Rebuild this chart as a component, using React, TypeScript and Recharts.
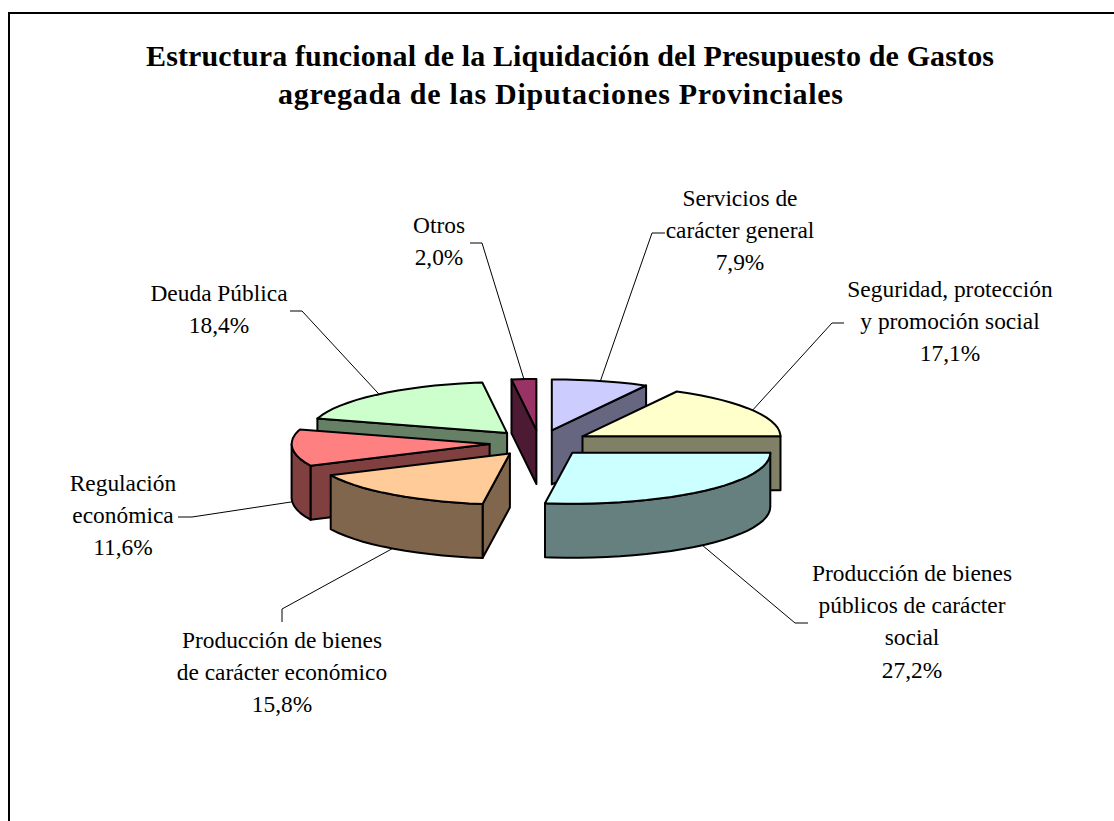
import React from 'react';
import { PieChart, Pie } from 'recharts';

// ── Data ───────────────────────────────────────────────────

const NAMES = [
  'Servicios de carácter general',
  'Seguridad, protección y promoción social',
  'Producción de bienes públicos de carácter social',
  'Producción de bienes de carácter económico',
  'Regulación económica',
  'Deuda Pública',
  'Otros',
];
const VALUES = [7.9, 17.1, 27.2, 15.8, 11.6, 18.4, 2.0];
const TOP_COLORS = ['#CCCCFF', '#FFFFCC', '#CCFFFF', '#FFCC99', '#FF8080', '#CCFFCC', '#993366'];
const WALL_COLORS = ['#666680', '#808066', '#668080', '#80664D', '#804040', '#668066', '#4D1A33'];

const LABEL_LINES = [
  ['Servicios de', 'carácter general', '7,9%'],
  ['Seguridad, protección', 'y promoción social', '17,1%'],
  ['Producción de bienes', 'públicos de carácter', 'social', '27,2%'],
  ['Producción de bienes', 'de carácter económico', '15,8%'],
  ['Regulación', 'económica', '11,6%'],
  ['Deuda Pública', '18,4%'],
  ['Otros', '2,0%'],
];

// text centre and first baseline of each label
const LABEL_POS = [
  [740, 206], [950, 297], [912, 581], [282, 648], [123, 491], [219, 301], [439, 233],
];
// leader line: free end, then elbow, then it runs to the slice rim
const LEADER_POS = [
  [[665, 233], [652, 233]],
  [[844, 323], [832, 323]],
  [[808, 623], [795, 623]],
  [[282, 622], [282, 609]],
  [[178, 517], [192, 517]],
  [[290, 311], [302, 311]],
  [[470, 243], [482, 243]],
];

const rows = NAMES.map((name, i) => ({
  name,
  value: VALUES[i],
  fill: TOP_COLORS[i],
  wall: WALL_COLORS[i],
  idx: i,
}));
const rowsReversed = [...rows].reverse();

// ── 3D projection ──────────────────────────────────────────

const SQUASH = 0.2576;
const DEPTH = 54;
const EXPLODE_X = 50;
const EXPLODE_Y = 13;
const FONT = '"Liberation Serif", "Times New Roman", serif';

const rad = (d: number) => (d * Math.PI) / 180;

// clockwise degrees from 12 o'clock
function apexOf(cx: number, cy: number, mid: number) {
  return { x: cx + EXPLODE_X * Math.sin(rad(mid)), y: cy - EXPLODE_Y * Math.cos(rad(mid)) };
}

function rimOf(apex: { x: number; y: number }, r: number, a: number) {
  return { x: apex.x + r * Math.sin(rad(a)), y: apex.y - r * SQUASH * Math.cos(rad(a)) };
}

function toPath(pts: { x: number; y: number }[]) {
  return 'M' + pts.map((p) => `${p.x.toFixed(1)},${p.y.toFixed(1)}`).join('L') + 'Z';
}

function sweep(from: number, to: number) {
  const out: number[] = [];
  for (let a = from; a < to; a += 4) out.push(a);
  out.push(to);
  return out;
}

const faceStyle = { stroke: '#000', strokeWidth: 2, strokeLinejoin: 'round' as const };

function Slice3D(props: any, side: 'right' | 'left') {
  const { cx, cy, outerRadius: r, startAngle, endAngle, fill, payload } = props;
  let lo = 90 - Math.max(startAngle, endAngle);
  let hi = 90 - Math.min(startAngle, endAngle);
  if (lo < 0) {
    lo += 360;
    hi += 360;
  }
  const mid = (lo + hi) / 2;
  if ((side === 'right') !== (mid < 180)) return <g />;

  const wall = payload?.wall ?? props.wall;
  const apex = apexOf(cx, cy, mid);
  const down = (p: { x: number; y: number }) => ({ x: p.x, y: p.y + DEPTH });
  const rim = sweep(lo, hi).map((a) => rimOf(apex, r, a));
  const first = rim[0];
  const last = rim[rim.length - 1];

  const arcFrom = Math.max(lo, 90);
  const arcTo = Math.min(hi, 270);
  const front = arcFrom < arcTo ? sweep(arcFrom, arcTo).map((a) => rimOf(apex, r, a)) : null;

  return (
    <g>
      {lo > 180 && (
        <path d={toPath([apex, first, down(first), down(apex)])} fill={wall} {...faceStyle} />
      )}
      {hi < 180 && (
        <path d={toPath([apex, last, down(last), down(apex)])} fill={wall} {...faceStyle} />
      )}
      {front && (
        <path d={toPath([...front, ...[...front].reverse().map(down)])} fill={wall} {...faceStyle} />
      )}
      <path d={toPath([apex, ...rim])} fill={fill} {...faceStyle} />
    </g>
  );
}

// ── Labels ─────────────────────────────────────────────────

function renderLabel(props: any) {
  const { cx, cy, midAngle, outerRadius: r, index } = props;
  const mid = ((90 - midAngle) % 360 + 360) % 360;
  const apex = apexOf(cx, cy, mid);
  const rim = rimOf(apex, r, mid);
  const inFront = mid > 90 && mid < 270;
  const end = { x: rim.x, y: inFront ? rim.y + DEPTH : rim.y };
  const [free, elbow] = LEADER_POS[index];
  const [tx, ty] = LABEL_POS[index];
  return (
    <g key={index}>
      <polyline
        points={`${free[0]},${free[1]} ${elbow[0]},${elbow[1]} ${end.x},${end.y}`}
        fill="none"
        stroke="#000"
        strokeWidth={1}
      />
      <text x={tx} y={ty} textAnchor="middle" fontFamily={FONT} fontSize={23.4} fill="#000">
        {LABEL_LINES[index].map((line, i) => (
          <tspan key={i} x={tx} y={ty + i * 32.2}>
            {line}
          </tspan>
        ))}
      </text>
    </g>
  );
}

// ── Main ───────────────────────────────────────────────────

export default function App() {
  return (
    <div style={{ position: 'absolute', left: 0, top: 0, width: 1114, height: 821, overflow: 'hidden', background: '#fff' }}>
      <div style={{ position: 'absolute', left: 8, top: 12, width: 1300, height: 1000, border: '2px solid #000' }} />
      <div style={{ position: 'absolute', left: 0, top: 0 }}>
        <PieChart width={1114} height={821} margin={{ top: 0, right: 0, bottom: 0, left: 0 }}>
          <text x={570} y={65.5} textAnchor="middle" fontFamily={FONT} fontSize={30} fontWeight={700} fill="#000" textLength={848} lengthAdjust="spacing">
            Estructura funcional de la Liquidación del Presupuesto de Gastos
          </text>
          <text x={560.5} y={104} textAnchor="middle" fontFamily={FONT} fontSize={30} fontWeight={700} fill="#000" textLength={565} lengthAdjust="spacing">
            agregada de las Diputaciones Provinciales
          </text>
          <Pie
            data={rows}
            dataKey="value"
            nameKey="name"
            cx={539.5}
            cy={443}
            outerRadius={198}
            startAngle={90}
            endAngle={-270}
            isAnimationActive={false}
            shape={(p: any) => Slice3D(p, 'right')}
            label={renderLabel}
            labelLine={false}
          />
          <Pie
            data={rowsReversed}
            dataKey="value"
            nameKey="name"
            cx={539.5}
            cy={443}
            outerRadius={198}
            startAngle={90}
            endAngle={450}
            isAnimationActive={false}
            shape={(p: any) => Slice3D(p, 'left')}
            label={false}
            labelLine={false}
          />
        </PieChart>
      </div>
    </div>
  );
}
